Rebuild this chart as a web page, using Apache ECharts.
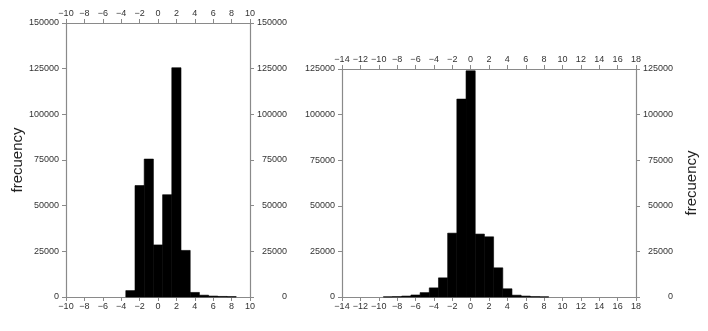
<!DOCTYPE html>
<html>
<head>
<meta charset="utf-8">
<script src="https://cdn.jsdelivr.net/npm/echarts@6/dist/echarts.min.js"></script>
<style>html,body{margin:0;padding:0;background:#fff;}#c{width:708px;height:331px;}</style>
</head>
<body>
<div id="c"></div>
<script>
// Left histogram (bin centers, bin width 1)
const leftCenters = [-3, -2, -1, 0, 1, 2, 3, 4, 5, 6, 7, 8];
const leftCounts = [3500, 61000, 75500, 28500, 56000, 125500, 25500, 2500, 1000, 500, 300, 200];
// Right histogram
const rightCenters = [-9, -8, -7, -6, -5, -4, -3, -2, -1, 0, 1, 2, 3, 4, 5, 6, 7, 8];
const rightCounts = [100, 200, 500, 1100, 2400, 5000, 10500, 35000, 108500, 124000, 34500, 33000, 16000, 4500, 1000, 500, 200, 100];
// Axis ranges / ticks
const leftXRange = [-10, 10];
const rightXRange = [-14, 18];
const xTickStep = 2;
const leftYMax = 150000;
const rightYMax = 125000;
const yTickStep = 25000;
const yName = 'frecuency';

const font = 'Liberation Sans, Arial, Helvetica, sans-serif';
const axisCol = '#8a8a8a';
const txtCol = '#333';
const fmt = v => String(v).replace('-', '\u2212');

function xAxis(grid, pos, range) {
  return {
    type: 'value', gridIndex: grid, position: pos, min: range[0], max: range[1], interval: xTickStep,
    axisLine: {show: true, onZero: false, lineStyle: {color: axisCol, width: 1.2}},
    axisTick: {show: true, length: 4, lineStyle: {color: axisCol}},
    splitLine: {show: false},
    axisLabel: {color: txtCol, fontSize: 9, fontFamily: font, margin: 5, formatter: fmt, showMinLabel: true, showMaxLabel: true}
  };
}
function yAxis(grid, pos, max, name, nameGap, labelAlign, margin) {
  const o = {
    type: 'value', gridIndex: grid, position: pos, min: 0, max: max, interval: yTickStep,
    axisLine: {show: true, onZero: false, lineStyle: {color: axisCol, width: 1.2}},
    axisTick: {show: true, length: 4, lineStyle: {color: axisCol}},
    splitLine: {show: false},
    axisLabel: {color: txtCol, fontSize: 9, fontFamily: font, margin: margin, align: labelAlign, formatter: v => String(v)}
  };
  if (name) {
    o.name = name; o.nameLocation = 'middle'; o.nameGap = nameGap; o.nameRotate = 90;
    o.nameTextStyle = {fontSize: 15, fontFamily: font, color: '#222'};
  }
  return o;
}
function hist(xi, yi, centers, counts) {
  return {
    type: 'custom', xAxisIndex: xi, yAxisIndex: yi,
    data: centers.map((c, i) => [c, counts[i]]),
    encode: {x: 0, y: 1},
    renderItem: function (params, api) {
      const x = api.value(0), y = api.value(1);
      const p0 = api.coord([x - 0.5, y]);
      const p1 = api.coord([x + 0.5, 0]);
      return {type: 'rect', shape: {x: p0[0], y: p0[1], width: p1[0] - p0[0], height: p1[1] - p0[1]},
        style: {fill: '#000', stroke: '#000', lineWidth: 0.6}};
    }
  };
}

const chart = echarts.init(document.getElementById('c'), null, {renderer: 'canvas'});
chart.setOption({
  animation: false,
  backgroundColor: '#fff',
  grid: [
    {left: 66, right: 458, top: 23, bottom: 34},
    {left: 342, right: 72, top: 69, bottom: 34}
  ],
  xAxis: [
    xAxis(0, 'bottom', leftXRange), xAxis(0, 'top', leftXRange),
    xAxis(1, 'bottom', rightXRange), xAxis(1, 'top', rightXRange)
  ],
  yAxis: [
    yAxis(0, 'left', leftYMax, yName, 37, 'right', 7),
    yAxis(0, 'right', leftYMax, null, 0, 'right', 37),
    yAxis(1, 'left', rightYMax, null, 0, 'right', 7),
    yAxis(1, 'right', rightYMax, yName, 48, 'right', 37)
  ],
  series: [
    hist(0, 0, leftCenters, leftCounts),
    hist(2, 2, rightCenters, rightCounts)
  ]
});
</script>
</body>
</html>
